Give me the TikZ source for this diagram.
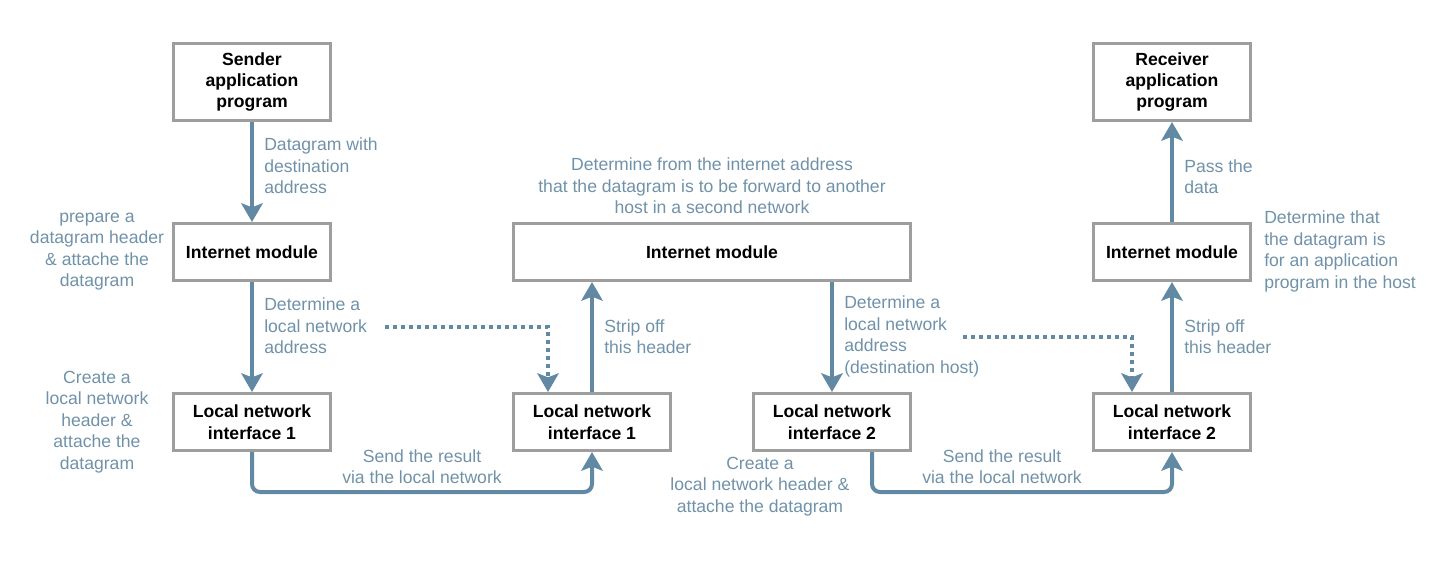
\documentclass[tikz,border=0pt]{standalone}
\usepackage{fontspec}
\setmainfont{Liberation Sans}
\usetikzlibrary{arrows.meta}
\definecolor{flowblue}{RGB}{98,137,163}
\definecolor{notegray}{RGB}{112,146,168}
\definecolor{boxgray}{RGB}{158,158,158}
\tikzset{
    x=0.75pt, y=-0.75pt,
    >={Stealth[width=16pt,length=14pt,inset=3pt]},
    module/.style={draw=boxgray, line width=2.25pt, fill=white,
        minimum width=117.75pt, minimum height=42.75pt,
        align=center, font=\fontsize{13.2}{16.1}\selectfont\bfseries},
    flow/.style={->, draw=flowblue, line width=3pt, rounded corners=6pt},
    hint/.style={->, draw=flowblue, line width=3pt, dash pattern=on 3pt off 3pt},
    note/.style={text=notegray, inner sep=0pt,
        font=\fontsize{13.2}{16.1}\selectfont},
}
\begin{document}
\begin{tikzpicture}
    \useasboundingbox (0,0) rectangle (1454,564);

    % boxes
    \node[module, minimum height=57.75pt] (sender) at (252,82) {Sender\\application\\program};
    \node[module] (inetA) at (252,252) {Internet module};
    \node[module] (lanA) at (252,422) {Local network\\interface 1};
    \node[module] (lanB) at (592,422) {Local network\\interface 1};
    \node[module, minimum width=297.75pt] (inetB) at (712,252) {Internet module};
    \node[module] (lanC) at (832,422) {Local network\\interface 2};
    \node[module] (lanD) at (1172,422) {Local network\\interface 2};
    \node[module] (inetC) at (1172,252) {Internet module};
    \node[module, minimum height=57.75pt] (receiver) at (1172,82) {Receiver\\application\\program};

    % connectors
    \draw[flow] (sender) -- (inetA);
    \draw[flow] (inetA) -- (lanA);
    \draw[flow] (lanA.south) -- ++(0,40) -| (lanB.south);
    \draw[flow] (lanB.north) -- (lanB.north |- inetB.south);
    \draw[flow] (inetB.south -| lanC.north) -- (lanC.north);
    \draw[flow] ([xshift=30pt]lanC.south) -- ++(0,40) -| (lanD.south);
    \draw[flow] (lanD) -- (inetC);
    \draw[flow] (inetC) -- (receiver);

    \coordinate (hintA) at (385,327);
    \coordinate (hintB) at (963,337);
    \draw[hint] (hintA) -| ([xshift=-33pt]lanB.north);
    \draw[hint] (hintB) -| ([xshift=-30pt]lanD.north);

    % labels
    \node[note, anchor=west, align=left] at (264,166) {Datagram with\\destination\\address};
    \node[note, align=center] at (97,251.5) {prepare a\\datagram header\\\& attache the\\datagram};
    \node[note, anchor=west, align=left] at (264,326) {Determine a\\local network\\address};
    \node[note, align=center] at (97,422) {Create a\\local network\\header \&\\attache the\\datagram};
    \node[note, align=center] at (422,466.5) {Send the result\\via the local network};
    \node[note, anchor=west, align=left] at (604,336.5) {Strip off\\this header};
    \node[note, align=center] at (712,186) {Determine from the internet address\\that the datagram is to be forward to another\\host in a second network};
    \node[note, anchor=west, align=left] at (844,336.5) {Determine a\\local network\\address\\(destination host)};
    \node[note, align=center] at (760,486.5) {Create a\\local network header \&\\attache the datagram};
    \node[note, align=center] at (1002,466.5) {Send the result\\via the local network};
    \node[note, anchor=west, align=left] at (1184,336.5) {Strip off\\this header};
    \node[note, anchor=west, align=left] at (1184,176.5) {Pass the\\data};
    \node[note, anchor=west, align=left] at (1264,251.5) {Determine that\\the datagram is\\for an application\\program in the host};
\end{tikzpicture}
\end{document}
